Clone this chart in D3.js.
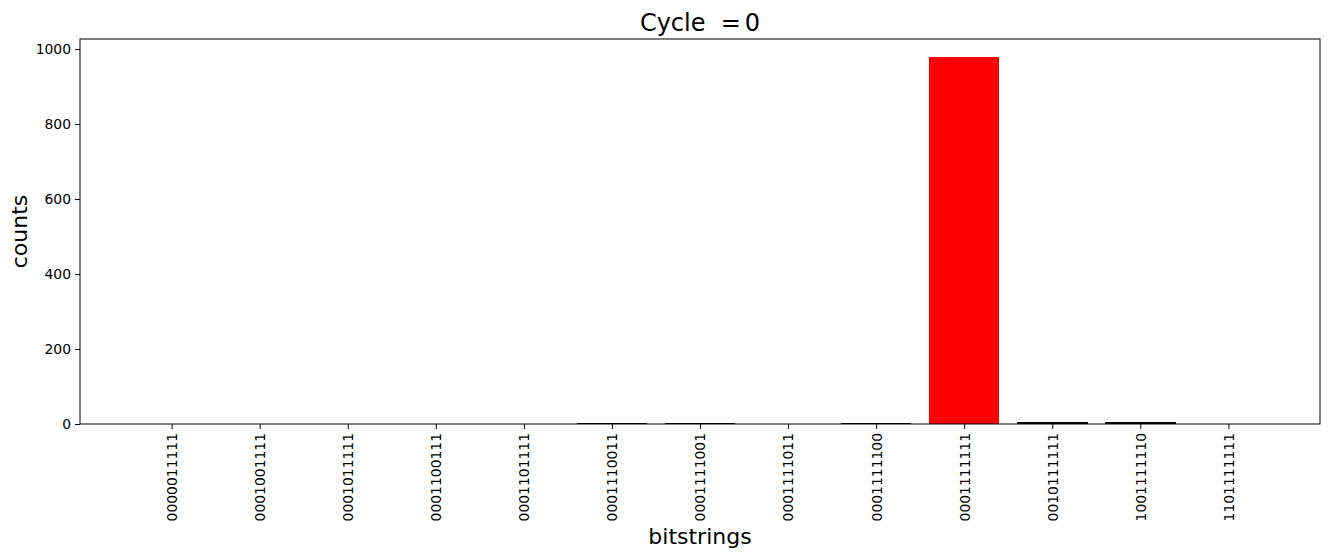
<!DOCTYPE html>
<html>
<head>
<meta charset="utf-8">
<script src="https://cdn.jsdelivr.net/npm/d3@7"></script>
<style>
  body { margin: 0; background: #fff; }
  text { font-family: "DejaVu Sans", sans-serif; fill: #000; }
</style>
</head>
<body>
<div id="chart"></div>
<script>
// data
const bitstrings = ["0000011111", "0001001111", "0001011111", "0001100111", "0001101111",
  "0001110011", "0001111001", "0001111011", "0001111100", "0001111111",
  "0010111111", "1001111110", "1101111111"];
const counts = [1, 1, 1, 1, 1, 3, 3, 1, 3, 978, 6, 5, 1];
const yTicks = [0, 200, 400, 600, 800, 1000];
const cycle = 0;

const W = 1330, H = 558;
const margin = { top: 39, right: 10, bottom: 134, left: 80 };
const width = W - margin.left - margin.right;
const height = H - margin.top - margin.bottom;

const svg = d3.select("#chart").append("svg")
  .attr("width", W).attr("height", H);

const g = svg.append("g").attr("transform", `translate(${margin.left},${margin.top})`);

// matplotlib-like limits: bars of width 0.8, 5% margins
const n = bitstrings.length;
const lo = -0.4, hi = n - 1 + 0.4, pad = (hi - lo) * 0.05;
const x = d3.scaleLinear().domain([lo - pad, hi + pad]).range([0, width]);
const ymax = d3.max(counts) * 1.05;
const y = d3.scaleLinear().domain([0, ymax]).range([height, 0]);

const maxVal = d3.max(counts);

g.selectAll(".bar")
  .data(counts)
  .enter().append("rect")
  .attr("class", "bar")
  .attr("x", (d, i) => x(i - 0.4))
  .attr("width", x(0.8) - x(0))
  .attr("y", d => y(d))
  .attr("height", d => height - y(d))
  .attr("shape-rendering", "crispEdges")
  .attr("fill", d => d === maxVal ? "red" : "black");

// axes
const xAxis = d3.axisBottom(x)
  .tickValues(d3.range(n))
  .tickFormat(i => bitstrings[i])
  .tickSize(5).tickPadding(4);
const gx = g.append("g").attr("transform", `translate(0,${height})`).call(xAxis);
gx.select(".domain").remove();
gx.selectAll("text")
  .attr("font-size", 13.9)
  .attr("font-family", "DejaVu Sans")
  .attr("transform", "rotate(-90)")
  .attr("x", -9).attr("y", 0).attr("dy", "0.35em")
  .style("text-anchor", "end");

const yAxis = d3.axisLeft(y).tickValues(yTicks).tickFormat(d3.format("d"))
  .tickSize(5).tickPadding(4);
const gy = g.append("g").call(yAxis);
gy.select(".domain").remove();
gy.selectAll("text").attr("font-size", 13.9).attr("font-family", "DejaVu Sans");

g.selectAll(".tick line").attr("stroke", "#000").attr("stroke-width", 1);

// frame
g.append("rect")
  .attr("width", width).attr("height", height)
  .attr("fill", "none").attr("stroke", "#000").attr("stroke-width", 1);

// labels
const title = svg.append("text")
  .attr("x", margin.left + width / 2).attr("y", 31)
  .attr("text-anchor", "middle").attr("font-size", 24)
  .style("white-space", "pre");
title.append("tspan").text("Cycle  =");
title.append("tspan").attr("dx", 4).text(cycle);

svg.append("text")
  .attr("x", margin.left + width / 2).attr("y", 544)
  .attr("text-anchor", "middle").attr("font-size", 22)
  .text("bitstrings");

svg.append("text")
  .attr("transform", `translate(27,${margin.top + height / 2}) rotate(-90)`)
  .attr("text-anchor", "middle").attr("font-size", 22)
  .text("counts");
</script>
</body>
</html>
